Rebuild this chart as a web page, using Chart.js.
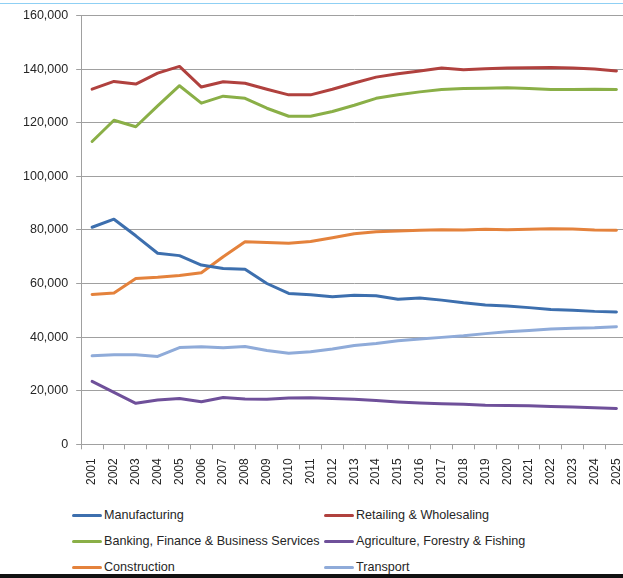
<!DOCTYPE html>
<html>
<head>
<meta charset="utf-8">
<script src="https://cdn.jsdelivr.net/npm/chart.js@4.4.1/dist/chart.umd.min.js"></script>
<style>
  html, body { margin:0; padding:0; background:#fff; width:623px; height:578px; overflow:hidden; position:relative; }
  #topline { position:absolute; left:0; top:3px; width:623px; height:1px; background:#8fd0f4; }
  #bottomband { position:absolute; left:0; top:574px; width:623px; height:4px; background:#111; }
  #wrap { position:absolute; left:0; top:0; width:640px; height:500px; }
  .lg { position:absolute; font-family:"Liberation Sans", Arial, sans-serif; font-size:12.6px; color:#262626; height:16px; line-height:16px; white-space:nowrap; }
  .lg i { position:absolute; left:0; top:7px; width:30px; height:3px; border-radius:1.5px; }
  .lg span { position:absolute; left:32px; top:0; }
</style>
</head>
<body>
<div id="topline"></div>
<div id="wrap"><canvas id="c" width="640" height="500"></canvas></div>
<div id="legend"></div>
<div id="bottomband"></div>
<script>
const years = ["2001","2002","2003","2004","2005","2006","2007","2008","2009","2010","2011","2012","2013","2014","2015","2016","2017","2018","2019","2020","2021","2022","2023","2024","2025"];
const seriesNames = ["Manufacturing","Retailing & Wholesaling","Banking, Finance & Business Services","Agriculture, Forestry & Fishing","Construction","Transport"];
const manufacturing = [81000,84000,77800,71300,70400,66900,65600,65300,60000,56300,55800,55100,55600,55400,54100,54600,53800,52800,52000,51600,51000,50300,50000,49600,49400];
const retailing = [132500,135400,134400,138500,141000,133300,135300,134700,132500,130400,130400,132500,134800,137000,138300,139300,140400,139800,140100,140400,140500,140600,140400,140000,139300];
const banking = [113000,120900,118500,126300,133800,127300,129900,129100,125400,122400,122400,124200,126500,129100,130400,131500,132400,132800,132900,133000,132800,132400,132400,132500,132400];
const agriculture = [23500,19400,15300,16500,17100,15900,17500,16900,16800,17300,17400,17100,16800,16300,15800,15400,15100,14900,14600,14500,14400,14100,13900,13600,13400];
const construction = [55900,56500,61900,62300,63000,64000,70000,75600,75300,75000,75700,77100,78600,79300,79600,79900,80100,80000,80200,80100,80200,80400,80300,80000,79900];
const transport = [33000,33400,33400,32800,36100,36400,36000,36500,35000,34000,34500,35600,36900,37600,38600,39300,39900,40500,41300,42000,42500,43000,43300,43500,43900];
const yTickStep = 20000;
const yMax = 160000;

const colors = ["#3d6fae","#b0413e","#8aaf47","#6f509a","#e4823c","#8fabd9"];
const values = [manufacturing, retailing, banking, agriculture, construction, transport];

const datasets = seriesNames.map((name, i) => ({
  label: name,
  data: values[i],
  borderColor: colors[i],
  backgroundColor: colors[i],
  borderWidth: 3,
  pointRadius: 0,
  pointHoverRadius: 0,
  tension: 0,
  fill: false,
  borderCapStyle: "round",
  borderJoinStyle: "round"
}));

const gridColor = "#a0a0a0";
const font = { family: "'Liberation Sans', Arial, sans-serif", size: 12.5 };

const chart = new Chart(document.getElementById("c"), {
  type: "line",
  data: { labels: years, datasets: datasets },
  options: {
    responsive: false,
    animation: false,
    devicePixelRatio: 1,
    layout: { padding: { left: 15, right: 9, top: 8, bottom: 6 } },
    plugins: { legend: { display: false }, tooltip: { enabled: false } },
    scales: {
      x: {
        type: "category",
        offset: true,
        grid: { display: true, drawOnChartArea: false, drawTicks: true, tickLength: 5, color: gridColor, offset: true },
        border: { display: true, color: gridColor, width: 1 },
        ticks: { autoSkip: false, minRotation: 90, maxRotation: 90, padding: 9, color: "#262626", font: { family: font.family, size: 12 } }
      },
      y: {
        min: 0,
        max: yMax,
        grid: { color: gridColor, lineWidth: 1, tickLength: 5, drawTicks: true },
        border: { display: true, color: gridColor, width: 1 },
        ticks: {
          stepSize: yTickStep,
          padding: 8,
          color: "#262626",
          font: font,
          callback: v => Number(v).toLocaleString("en-US")
        }
      }
    }
  }
});

// HTML legend built from the chart's datasets (two columns, row-wise)
const legend = document.getElementById("legend");
const colX = [72, 324];
const rowY = [507, 533, 559];
chart.data.datasets.forEach((ds, i) => {
  const d = document.createElement("div");
  d.className = "lg";
  d.style.left = colX[i % 2] + "px";
  d.style.top = rowY[Math.floor(i / 2)] + "px";
  const sw = document.createElement("i");
  sw.style.background = ds.borderColor;
  const t = document.createElement("span");
  t.textContent = ds.label;
  d.appendChild(sw); d.appendChild(t);
  legend.appendChild(d);
});
</script>
</body>
</html>
